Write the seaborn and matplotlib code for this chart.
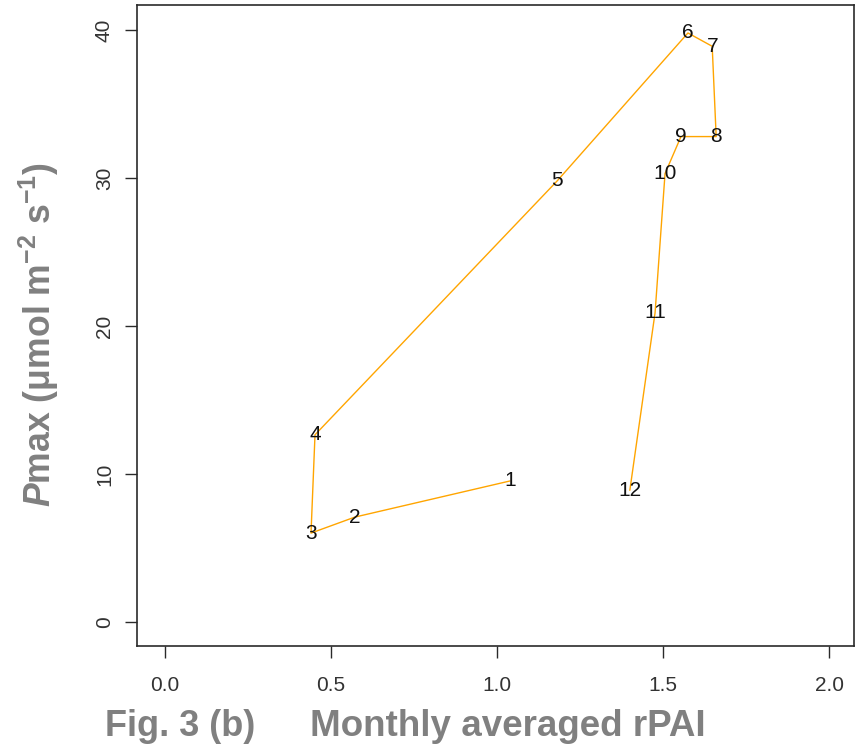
import matplotlib
matplotlib.use("Agg")
import matplotlib.pyplot as plt
import seaborn as sns
import pandas as pd
from matplotlib import font_manager

# ---- data ----
months = [1, 2, 3, 4, 5, 6, 7, 8, 9, 10, 11, 12]
rpai = [1.039, 0.572, 0.440, 0.452, 1.181, 1.575, 1.648, 1.660, 1.554, 1.506, 1.476, 1.400]
pmax = [9.53, 7.09, 6.01, 12.65, 29.8, 39.8, 38.9, 32.8, 32.8, 30.3, 20.9, 8.9]
xticks = [0.0, 0.5, 1.0, 1.5, 2.0]
xticklabels = ["0.0", "0.5", "1.0", "1.5", "2.0"]
yticks = [0, 10, 20, 30, 40]
yticklabels = ["0", "10", "20", "30", "40"]

df = pd.DataFrame({"month": months, "rPAI": rpai, "Pmax": pmax})

sns.set_theme(style="ticks")
names = {f.name for f in font_manager.fontManager.ttflist}
narrow = "Liberation Sans Narrow" if "Liberation Sans Narrow" in names else "Liberation Sans"
plt.rcParams["font.family"] = ["Liberation Sans", "DejaVu Sans"]
plt.rcParams["mathtext.fontset"] = "custom"
plt.rcParams["mathtext.rm"] = "Liberation Sans:bold"
plt.rcParams["mathtext.bf"] = "Liberation Sans:bold"
plt.rcParams["mathtext.it"] = "Liberation Sans:bold:italic"

W, H = 863, 744
fig = plt.figure(figsize=(W / 100, H / 100), dpi=100)
ax = fig.add_axes([137 / W, 1 - 646 / H, (854 - 137) / W, (646 - 5) / H])

sns.lineplot(data=df, x="rPAI", y="Pmax", sort=False, estimator=None,
             color="#FFA500", linewidth=1.0, ax=ax)

for m, xv, yv in zip(df["month"], df["rPAI"], df["Pmax"]):
    ax.text(xv, yv, str(m), ha="center", va="center", fontsize=15,
            family=[narrow, "DejaVu Sans"], color="#111111")

ax.set_xlim(-0.084, 2.075)
ax.set_ylim(-1.62, 41.69)
ax.set_xticks(xticks)
ax.set_xticklabels(xticklabels)
ax.set_yticks(yticks)
ax.set_yticklabels(yticklabels)
ax.set_xlabel("")
ax.set_ylabel("")

for s in ax.spines.values():
    s.set_color("#2a2a2a")
    s.set_linewidth(1.2)

ax.tick_params(axis="both", direction="out", length=8.6, width=1.0, color="#2a2a2a",
               labelsize=15, labelcolor="#333333")
ax.tick_params(axis="x", pad=13)
ax.tick_params(axis="y", pad=8)
for lab in ax.get_xticklabels() + ax.get_yticklabels():
    lab.set_family([narrow, "DejaVu Sans"])
for lab in ax.get_yticklabels():
    lab.set_rotation(90)
    lab.set_va("center")

gray = "#808080"
fig.text(39 / W, 1 - 335 / H, r"$\mathit{P}$max (μmol m$^{-2}$ s$^{-1}$)",
         rotation=90, ha="center", va="center", fontsize=25.7,
         fontweight="bold", color=gray)
fig.text(105 / W, 8 / H, "Fig. 3 (b)", ha="left", va="baseline",
         fontsize=26, fontweight="bold", color=gray)
fig.text(310 / W, 8 / H, "Monthly averaged rPAI", ha="left", va="baseline",
         fontsize=26.5, fontweight="bold", color=gray)

fig.savefig("out.png", dpi=100)
